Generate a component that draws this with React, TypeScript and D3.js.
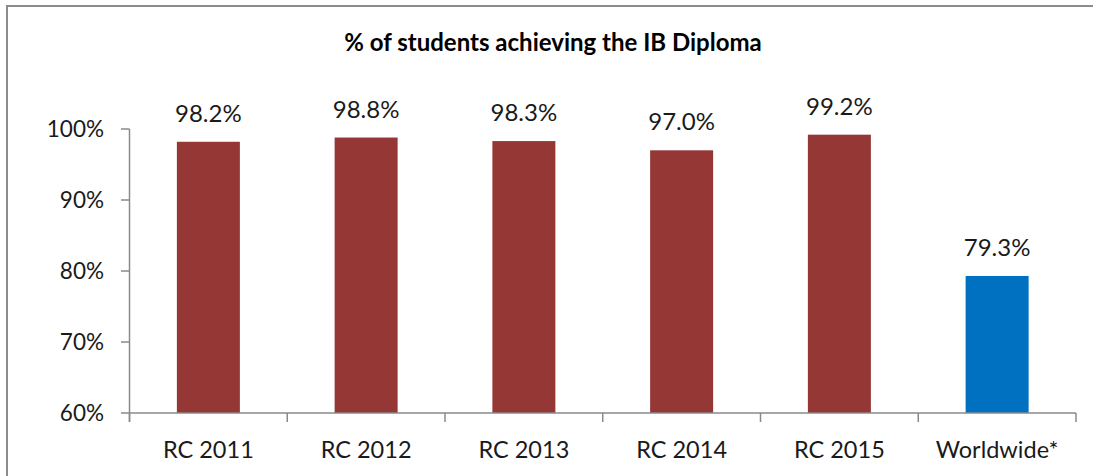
import React from "react";
import * as d3 from "d3";

const categories = ["RC 2011", "RC 2012", "RC 2013", "RC 2014", "RC 2015", "Worldwide*"];
const values = [98.2, 98.8, 98.3, 97.0, 99.2, 79.3];
const barColors = ["#953735", "#953735", "#953735", "#953735", "#953735", "#0070C0"];
const yTicks = [60, 70, 80, 90, 100];
const title = "% of students achieving the IB Diploma";

const W = 1093;
const H = 476;
const FONT = "Lato, 'Open Sans', sans-serif";

export default function App() {
  const left = 129.5;
  const right = 1076;
  const top = 129;
  const bottom = 413;
  const x = d3.scaleBand<string>().domain(categories).range([left, right]).paddingInner(0).paddingOuter(0);
  const y = d3.scaleLinear().domain([60, 100]).range([bottom, top]);
  const bw = 63;
  const axisColor = "#8a8a8a";

  const catTicks = categories.map((_, i) => left + i * x.step()).concat([right]);

  return (
    <div style={{ position: "fixed", left: 0, top: 0 }}>
      <svg width={W} height={H} style={{ display: "block" }}>
        <rect x={0} y={0} width={W} height={H} fill="#fff" />
        <rect x={7} y={6} width={W + 20} height={H + 20} fill="none" stroke="#8c8c8c" strokeWidth={2} />
        <text x={553} y={51} textAnchor="middle" fontFamily={FONT} fontWeight="bold" fontSize={24} fill="#000">
          {title}
        </text>
        {/* bars */}
        {categories.map((c, i) => {
          const cx = (x(c) as number) + x.bandwidth() / 2;
          return (
            <g key={c}>
              <rect x={cx - bw / 2} y={y(values[i])} width={bw} height={bottom - y(values[i])} fill={barColors[i]} />
              <text x={cx} y={y(values[i]) - 20} textAnchor="middle" fontFamily={FONT} fontSize={24} fill="#1a1a1a">
                {values[i].toFixed(1) + "%"}
              </text>
              <text x={cx} y={458} textAnchor="middle" fontFamily={FONT} fontSize={23.5} fill="#1a1a1a">
                {c}
              </text>
            </g>
          );
        })}
        {/* y axis */}
        <line x1={left} x2={left} y1={top} y2={bottom + 9} stroke={axisColor} strokeWidth={1.5} />
        {yTicks.map((t) => (
          <g key={t}>
            <line x1={left - 8.5} x2={left} y1={y(t)} y2={y(t)} stroke={axisColor} strokeWidth={1.5} />
            <text x={104} y={y(t) + 8} textAnchor="end" fontFamily={FONT} fontSize={22.5} fill="#1a1a1a">
              {t + "%"}
            </text>
          </g>
        ))}
        {/* x axis */}
        <line x1={left} x2={right} y1={bottom} y2={bottom} stroke={axisColor} strokeWidth={1.5} />
        {catTicks.map((tx, i) => (
          <line key={i} x1={tx} x2={tx} y1={bottom} y2={bottom + 9} stroke={axisColor} strokeWidth={1.5} />
        ))}
      </svg>
    </div>
  );
}
